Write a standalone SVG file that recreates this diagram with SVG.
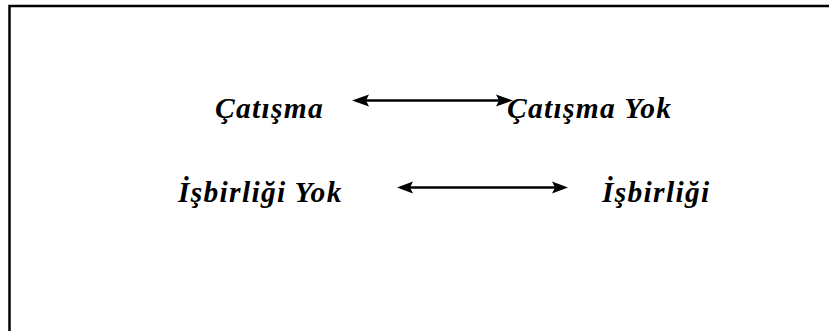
<svg xmlns="http://www.w3.org/2000/svg" width="829" height="331" viewBox="0 0 829 331">
  <style>
    .frame { fill: none; stroke: #000; stroke-width: 2.5; }
    .label { font-family: "Liberation Serif", "Times New Roman", Times, serif; font-weight: 700; font-style: italic; font-size: 29.5px; fill: #000; letter-spacing: 1.3px; }
    .shaft { stroke: #000; stroke-width: 2.5; fill: none; }
    .head { fill: #000; }
  </style>
  <defs>
    <filter id="soft" x="-10%" y="-50%" width="120%" height="200%">
      <feGaussianBlur stdDeviation="0.7"/>
    </filter>
  </defs>
  <rect width="829" height="331" fill="#fff"/>
  <!-- open frame: left and top edges only -->
  <path class="frame" d="M9.5,331 V6 H829"/>

  <g id="catisma"><text class="label" x="215" y="118">Çatışma</text></g>
  <g id="catisma-yok"><text class="label" x="507" y="118">Çatışma Yok</text></g>
  <g id="isbirligi-yok"><text class="label" x="178" y="202">İşbirliği Yok</text></g>
  <g id="isbirligi"><text class="label" x="602" y="202">İşbirliği</text></g>

  <g id="connectors">
    <g id="arrow-conflict">
      <line class="shaft" x1="362" y1="100.5" x2="503" y2="100.5"/>
      <polygon class="head" points="352,100.5 369,94.5 366,100.5 369,106.5"/>
      <polygon class="head" points="513,100.5 496,94.5 499,100.5 496,106.5"/>
    </g>
    <g id="arrow-cooperation" filter="url(#soft)">
      <line class="shaft" x1="406" y1="187.5" x2="558" y2="187.5"/>
      <polygon class="head" points="397,187.5 413,181.5 410,187.5 413,193.5"/>
      <polygon class="head" points="568,187.5 552,181.5 555,187.5 552,193.5"/>
    </g>
  </g>
</svg>
